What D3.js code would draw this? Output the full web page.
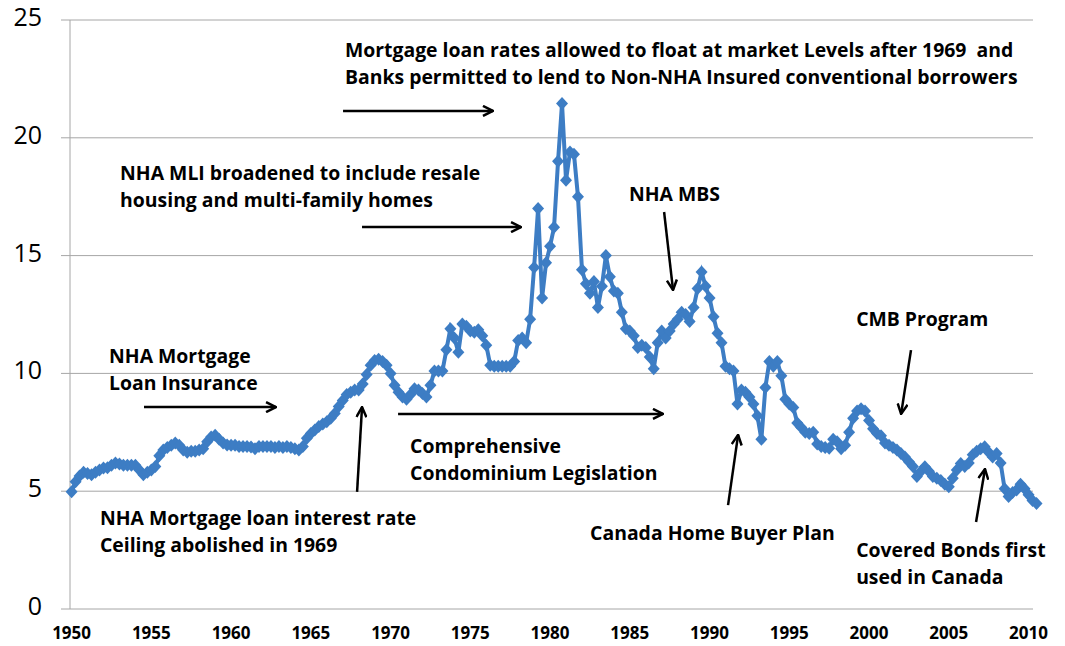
<!DOCTYPE html>
<html>
<head>
<meta charset="utf-8">
<script src="https://cdn.jsdelivr.net/npm/d3@7"></script>
<style>
  body { margin: 0; background: #fff; }
  .note { font-family: "Open Sans", sans-serif; font-weight: 700; font-size: 19.4px; fill: #000; }
  .ylab { font-family: "Open Sans", sans-serif; font-size: 25px; fill: #000; }
  .xlab { font-family: "Open Sans", sans-serif; font-weight: 700; font-size: 17px; fill: #000; }
</style>
</head>
<body>
<svg id="chart" width="1065" height="646"></svg>
<script>
// first year of the series, values are quarterly (Q1..Q4)
const startYear = 1950;

// mortgage rate (%) by year, one value per quarter
const rates = [
    [4.98, 5.4, 5.65, 5.8],    // 1950
    [5.75, 5.7, 5.8, 5.9],
    [5.98, 6.0, 6.1, 6.2],
    [6.15, 6.1, 6.1, 6.1],
    [6.1, 5.9, 5.7, 5.8],
    [5.9, 6.05, 6.5, 6.75],    // 1955
    [6.85, 6.95, 7.05, 6.95],
    [6.75, 6.65, 6.7, 6.7],
    [6.75, 6.8, 7.1, 7.3],
    [7.38, 7.2, 7.05, 6.96],
    [6.95, 6.95, 6.9, 6.9],    // 1960
    [6.9, 6.88, 6.8, 6.9],
    [6.9, 6.9, 6.9, 6.85],
    [6.9, 6.85, 6.9, 6.85],
    [6.8, 6.75, 6.9, 7.25],
    [7.45, 7.6, 7.75, 7.85],   // 1965
    [7.95, 8.1, 8.3, 8.6],
    [8.85, 9.1, 9.2, 9.3],
    [9.3, 9.55, 9.95, 10.35],
    [10.55, 10.6, 10.5, 10.35],
    [10.0, 9.5, 9.2, 9.0],     // 1970
    [8.9, 9.1, 9.35, 9.3],
    [9.15, 9.0, 9.5, 10.1],
    [10.1, 10.1, 11.0, 11.9],
    [11.5, 10.9, 12.1, 12.0],
    [11.8, 11.75, 11.85, 11.6], // 1975
    [11.2, 10.35, 10.3, 10.3],
    [10.3, 10.3, 10.3, 10.5],
    [11.4, 11.5, 11.3, 12.3],
    [14.5, 17.0, 13.2, 14.7],
    [15.4, 16.2, 19.0, 21.46], // 1980
    [18.2, 19.4, 19.3, 17.5],
    [14.4, 13.8, 13.4, 13.9],
    [12.8, 13.7, 15.0, 14.1],
    [13.5, 13.4, 12.6, 11.9],
    [11.8, 11.6, 11.1, 11.2],  // 1985
    [11.1, 10.7, 10.2, 11.3],
    [11.8, 11.5, 11.8, 12.1],
    [12.3, 12.6, 12.5, 12.2],
    [12.8, 13.6, 14.3, 13.7],
    [13.2, 12.4, 11.7, 11.3],  // 1990
    [10.3, 10.2, 10.1, 8.7],
    [9.3, 9.2, 9.0, 8.7],
    [8.2, 7.2, 9.4, 10.5],
    [10.3, 10.5, 9.9, 8.9],
    [8.7, 8.55, 7.9, 7.7],     // 1995
    [7.5, 7.45, 7.5, 7.0],
    [6.9, 6.85, 6.82, 7.2],
    [7.1, 6.8, 6.95, 7.5],
    [8.1, 8.4, 8.5, 8.4],
    [8.0, 7.65, 7.45, 7.35],   // 2000
    [7.05, 6.95, 6.85, 6.75],
    [6.6, 6.45, 6.25, 6.05],
    [5.62, 5.85, 6.04, 5.85],
    [5.62, 5.55, 5.45, 5.3],
    [5.19, 5.55, 5.9, 6.18],   // 2005
    [6.05, 6.2, 6.55, 6.7],
    [6.8, 6.89, 6.65, 6.45],
    [6.6, 6.2, 5.1, 4.77],
    [4.95, 5.05, 5.3, 5.1],
    [4.85, 4.6, 4.48]          // 2010
];

const yTicks = [0, 5, 10, 15, 20, 25];
const xTickYears = [1950, 1955, 1960, 1965, 1970, 1975, 1980, 1985, 1990, 1995, 2000, 2005, 2010];

// annotation texts, anchored at [year, rate] of the first line's start
const noteLines = [
    ["Mortgage loan rates allowed to float at market Levels after 1969  and",
     "Banks permitted to lend to Non-NHA Insured conventional borrowers"],
    ["NHA MLI broadened to include resale", "housing and multi-family homes"],
    ["NHA MBS"],
    ["CMB Program"],
    ["NHA Mortgage", "Loan Insurance"],
    ["NHA Mortgage loan interest rate", "Ceiling abolished in 1969"],
    ["Comprehensive", "Condominium Legislation"],
    ["Canada Home Buyer Plan"],
    ["Covered Bonds first", "used in Canada"]
];
const noteAnchors = [
    [1967.14, 23.43], [1953.04, 18.21], [1984.95, 17.32], [1999.19, 12.01],
    [1952.35, 10.44], [1951.78, 3.57], [1971.22, 6.62], [1982.51, 2.93], [1999.19, 2.21]
];

// arrows: [fromYear, fromRate, toYear, toRate]
const arrows = [
    [1967.02, 21.14, 1976.42, 21.14],
    [1968.21, 16.21, 1978.18, 16.21],
    [1987.15, 16.85, 1987.71, 13.54],
    [2002.63, 10.99, 2002.01, 8.28],
    [1954.54, 8.57, 1962.82, 8.57],
    [1967.90, 4.97, 1968.21, 8.57],
    [1970.47, 8.28, 1987.08, 8.28],
    [1991.16, 4.41, 1991.79, 7.39],
    [2006.71, 3.69, 2007.27, 5.94]
];

function buildSeries() {
    const series = [];
    rates.forEach((row, i) => {
        row.forEach((v, q) => series.push({ t: startYear + i + q / 4, v: v }));
    });
    return series;
}

function drawChart() {
    const svg = d3.select('#chart');
    const margin = { left: 70, top: 20, right: 1033, bottom: 609 };
    const blue = '#3d7dc4';

    const x = d3.scaleLinear().domain([1949.9, 2010.28]).range([margin.left, margin.right]);
    const y = d3.scaleLinear().domain([0, 25]).range([margin.bottom, margin.top]);

    // gridlines with small outer ticks
    svg.append('g').selectAll('line')
        .data(yTicks)
        .enter().append('line')
            .attr('x1', margin.left - 9)
            .attr('x2', margin.right)
            .attr('y1', d => y(d))
            .attr('y2', d => y(d))
            .attr('stroke', '#a6a6a6')
            .attr('stroke-width', 1);

    svg.append('line')
        .attr('x1', margin.left).attr('x2', margin.left)
        .attr('y1', y(25)).attr('y2', y(0))
        .attr('stroke', '#a6a6a6');

    svg.append('g').selectAll('text')
        .data(yTicks)
        .enter().append('text')
            .attr('class', 'ylab')
            .attr('x', 42)
            .attr('y', d => y(d) + 6)
            .attr('text-anchor', 'end')
            .text(d => d);

    svg.append('g').selectAll('text')
        .data(xTickYears)
        .enter().append('text')
            .attr('class', 'xlab')
            .attr('x', d => x(d))
            .attr('y', 639)
            .attr('text-anchor', 'middle')
            .text(d => d);

    const series = buildSeries();

    const line = d3.line()
        .x(d => x(d.t))
        .y(d => y(d.v));

    svg.append('path')
        .datum(series)
        .attr('d', line)
        .attr('fill', 'none')
        .attr('stroke', blue)
        .attr('stroke-width', 4);

    svg.append('g').selectAll('path')
        .data(series)
        .enter().append('path')
            .attr('d', 'M0,-6.5L6,0L0,6.5L-6,0Z')
            .attr('transform', d => `translate(${x(d.t)},${y(d.v)})`)
            .attr('fill', blue);

    // notes
    noteLines.forEach((lines, i) => {
        const [t, v] = noteAnchors[i];
        const txt = svg.append('text')
            .attr('class', 'note')
            .attr('x', x(t))
            .attr('y', y(v));
        lines.forEach((s, j) => {
            txt.append('tspan')
                .attr('x', x(t))
                .attr('dy', j === 0 ? 0 : 27)
                .attr('xml:space', 'preserve')
                .text(s);
        });
    });

    // arrows with open heads
    const defs = svg.append('defs');
    defs.append('marker')
        .attr('id', 'head')
        .attr('viewBox', '0 0 12 12')
        .attr('refX', 11)
        .attr('refY', 6)
        .attr('markerWidth', 12)
        .attr('markerHeight', 12)
        .attr('markerUnits', 'userSpaceOnUse')
        .attr('orient', 'auto')
        .append('path')
            .attr('d', 'M1,1L11,6L1,11')
            .attr('fill', 'none')
            .attr('stroke', '#000')
            .attr('stroke-width', 2.5);

    svg.append('g').selectAll('line')
        .data(arrows)
        .enter().append('line')
            .attr('x1', d => x(d[0]))
            .attr('y1', d => y(d[1]))
            .attr('x2', d => x(d[2]))
            .attr('y2', d => y(d[3]))
            .attr('stroke', '#000')
            .attr('stroke-width', 2.5)
            .attr('marker-end', 'url(#head)');
}

window.addEventListener('DOMContentLoaded', () => {
    drawChart();
});
</script>
</body>
</html>
